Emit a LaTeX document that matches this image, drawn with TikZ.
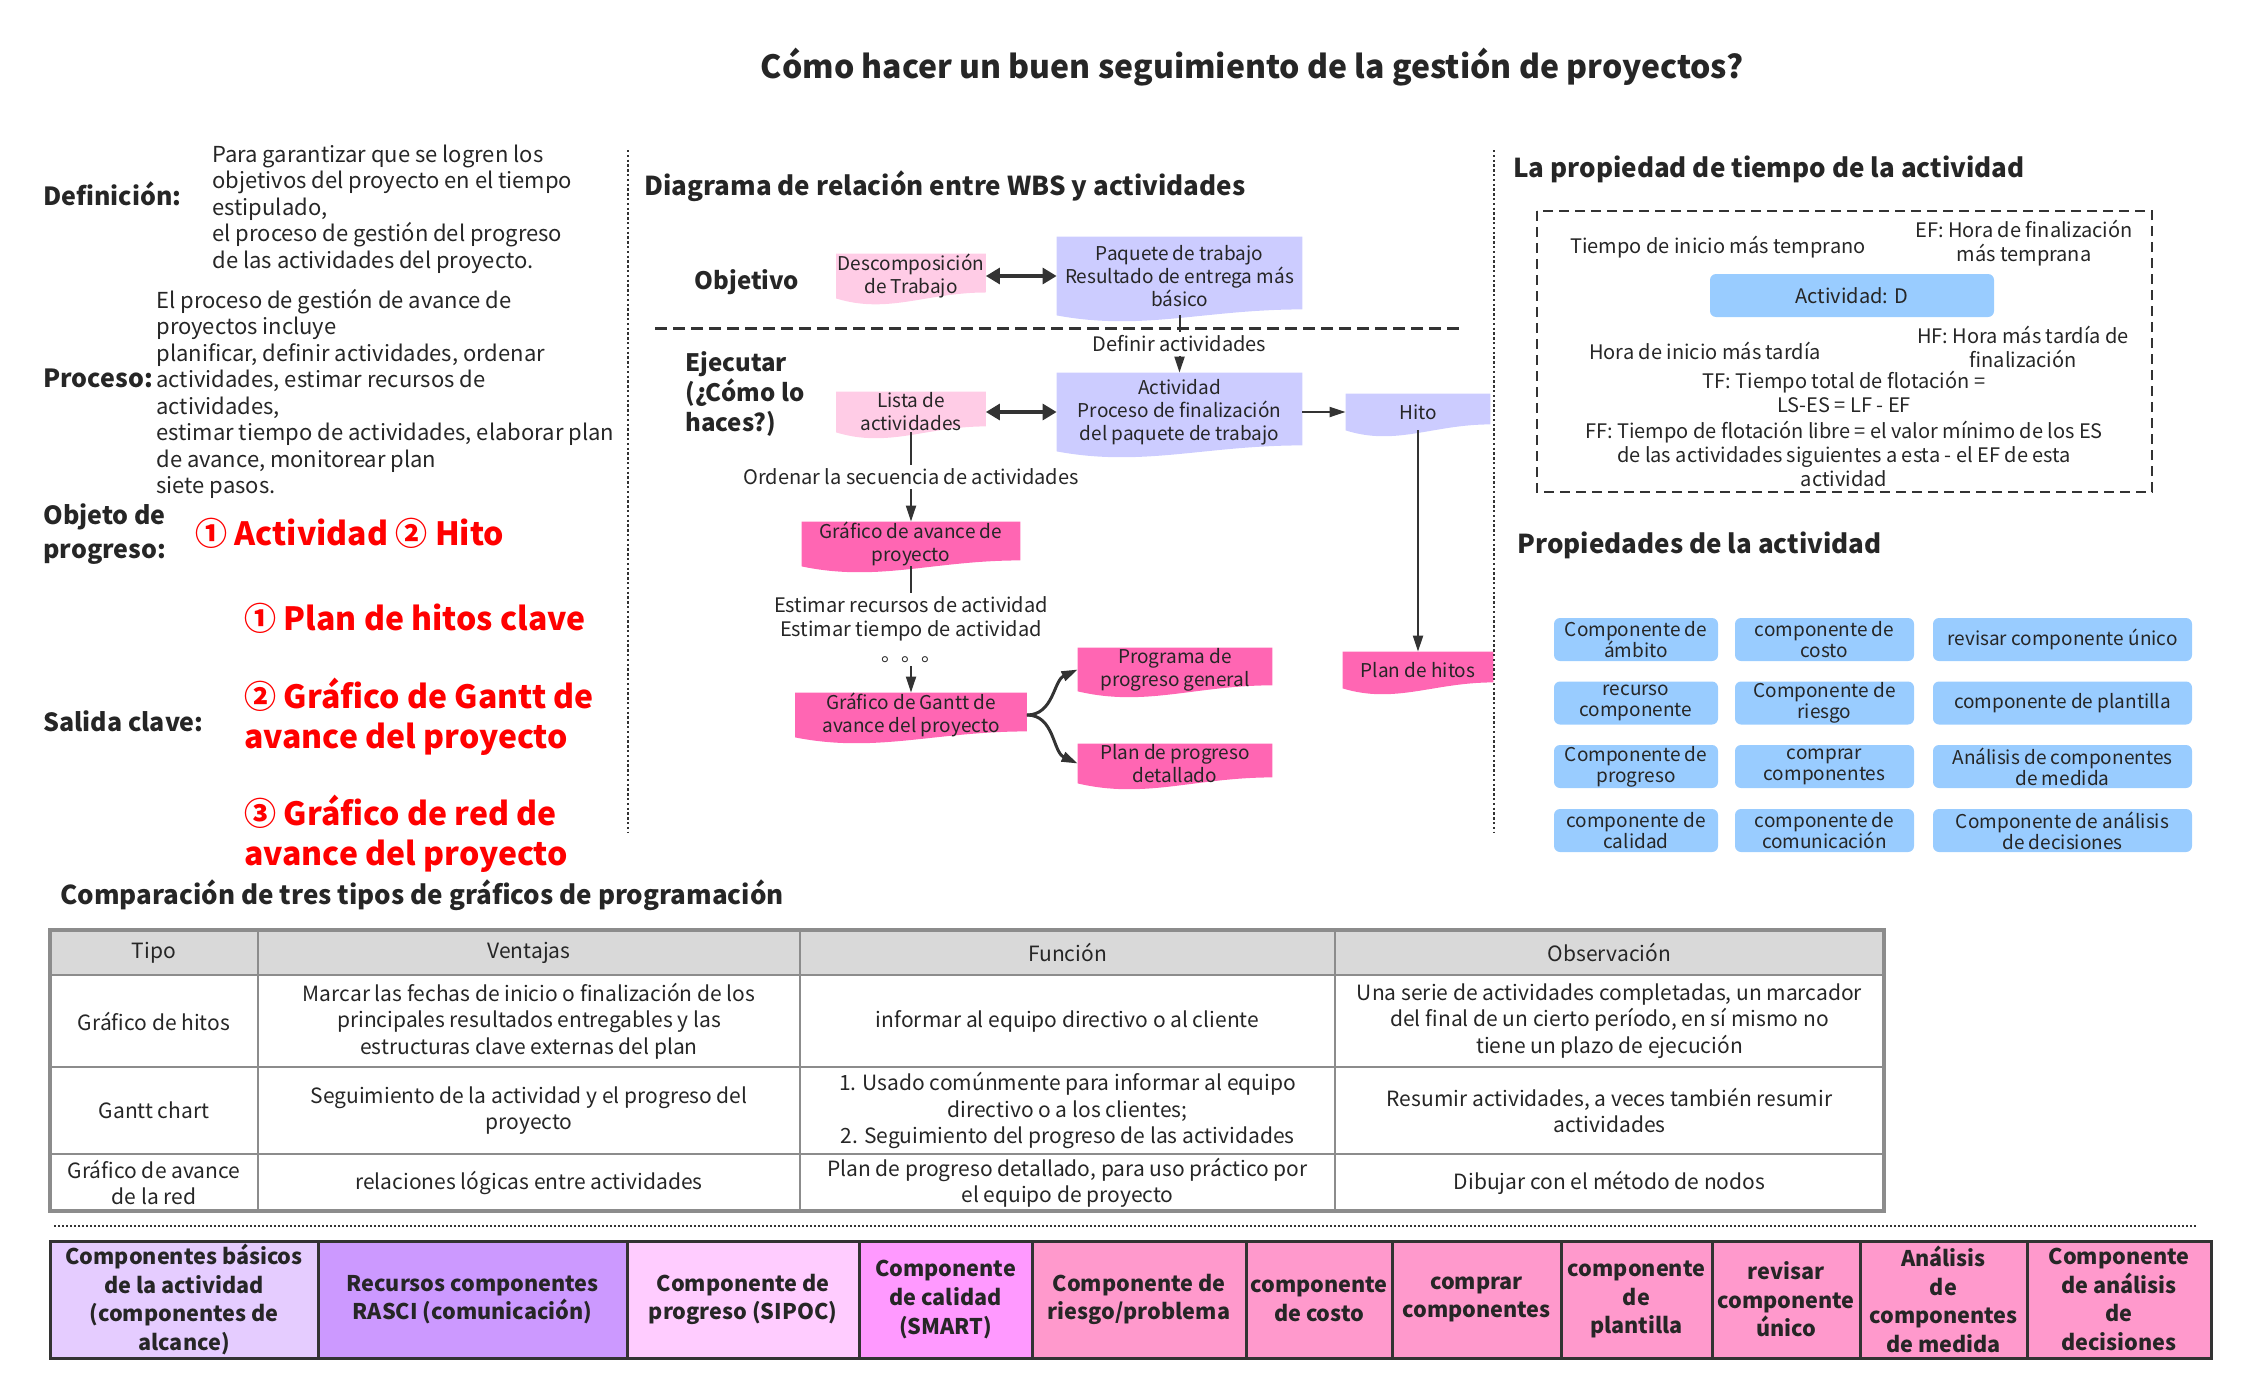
\documentclass[tikz,border=0pt]{standalone}
\usepackage{fontspec}
\setmainfont{Noto Sans CJK SC}
\usepackage{tikz}
\usetikzlibrary{arrows.meta,positioning,calc,backgrounds}
\definecolor{docpink}{HTML}{FFCCE6}
\definecolor{docviolet}{HTML}{CCCCFF}
\definecolor{dochot}{HTML}{FF66B3}
\definecolor{propblue}{HTML}{99CCFF}
\definecolor{linegray}{HTML}{333333}
\definecolor{tablegray}{HTML}{8C8C8C}
\definecolor{headgray}{HTML}{D9D9D9}
\definecolor{bandA}{HTML}{E5CCFF}
\definecolor{bandB}{HTML}{CC99FF}
\definecolor{bandC}{HTML}{FFCCFF}
\definecolor{bandD}{HTML}{FF99FF}
\definecolor{bandE}{HTML}{FF99CC}
\definecolor{alertred}{HTML}{FF0000}
\newcommand{\setfs}[2]{\fontsize{#1}{#2}\selectfont}

\begin{document}
\begin{tikzpicture}[x=0.5pt,y=-0.5pt,
  every node/.style={inner sep=0pt,text=black!85},
  lbl/.style={font=\bfseries\setfs{12.5}{17},anchor=west,align=left},
  body/.style={font=\setfs{11}{13.25},anchor=west,align=left},
  hot/.style={font=\bfseries\setfs{16}{20},text=alertred,anchor=west,align=left},
  head/.style={font=\bfseries\setfs{13}{16},anchor=west},
  doc/.style={font=\setfs{9.5}{11.5},align=center},
  small/.style={font=\setfs{10}{12.2},align=center},
  prop/.style={fill=propblue,rounded corners=3pt,font=\setfs{9.5}{10.6},align=center,minimum height=21.5pt},
  cell/.style={font=\setfs{10.5}{13.2},align=center},
  band/.style={draw=linegray,line width=1.5pt,font=\bfseries\setfs{10.8}{14.3},align=center,minimum height=58.5pt},
  arr/.style={draw=linegray,line width=1pt,-{Triangle[length=8pt,width=5pt]}},
  twoway/.style={draw=linegray,line width=1.6pt,{Triangle[length=7pt,width=8pt]}-{Triangle[length=7pt,width=8pt]}},
  sep/.style={dash pattern=on 1.2pt off 1.2pt,line width=1.2pt,draw=linegray}]
  \useasboundingbox (0,0) rectangle (2248,1397);

  \node[font=\bfseries\setfs{16}{20}] (title) at (1252,67) {Cómo hacer un buen seguimiento de la gestión de proyectos?};

  % left column
  \node[lbl] (deflbl) at (43,194) {Definición:};
  \node[body] (deftxt) at (212,209) {Para garantizar que se logren los\\objetivos del proyecto en el tiempo\\estipulado,\\el proceso de gestión del progreso\\de las actividades del proyecto.};
  \node[lbl] (proclbl) at (43,378) {Proceso:};
  \node[body] (proctxt) at (156,394) {El proceso de gestión de avance de\\proyectos incluye\\planificar, definir actividades, ordenar\\actividades, estimar recursos de\\actividades,\\estimar tiempo de actividades, elaborar plan\\de avance, monitorear plan\\siete pasos.};
  \node[lbl] (objlbl) at (43,534) {Objeto de\\progreso:};
  \node[hot] (objtxt) at (195,533) {① Actividad ② Hito};
  \node[lbl] (sallbl) at (43,721) {Salida clave:};
  \node[hot] (salA) at (244,618) {① Plan de hitos clave};
  \node[hot] (salB) at (244,717) {② Gráfico de Gantt de\\avance del proyecto};
  \node[hot] (salC) at (244,834) {③ Gráfico de red de\\avance del proyecto};

  \draw[sep] (628,150) -- (628,832);
  \draw[sep] (1494,150) -- (1494,832);

  % WBS
  \node[head] (wbshead) at (644,186) {Diagrama de relación entre WBS y actividades};
  \node[font=\bfseries\setfs{12}{15}] (objetivo) at (747,282) {Objetivo};
  \node[lbl,font=\bfseries\setfs{12}{15}] (ejecutar) at (685,394) {Ejecutar\\(¿Cómo lo\\haces?)};
  \draw[linegray,line width=1.5pt,dash pattern=on 6pt off 3pt] (655,328) -- (1462,328);

  \node[doc,minimum width=74.5pt,minimum height=19pt] (desc) at (911,276) {Descomposición\\de Trabajo};
  \node[doc,minimum width=122.5pt,minimum height=39pt] (paq) at (1179.5,276) {Paquete de trabajo\\Resultado de entrega más\\básico};
  \node[doc,minimum width=74.5pt,minimum height=20pt] (lista) at (911,412) {Lista de\\actividades};
  \node[doc,minimum width=122.5pt,minimum height=39pt] (act) at (1179.5,412) {Actividad\\Proceso de finalización\\del paquete de trabajo};
  \node[doc,minimum width=72pt,minimum height=18pt] (hito) at (1418,412) {Hito};
  \node[doc,minimum width=109pt,minimum height=19pt] (avance) at (911,544) {Gráfico de avance de\\proyecto};
  \node[doc,minimum width=115.5pt,minimum height=20pt] (gantt) at (911,715) {Gráfico de Gantt de\\avance del proyecto};
  \node[doc,minimum width=97pt,minimum height=19.5pt] (prog) at (1175,669.5) {Programa de\\progreso general};
  \node[doc,minimum width=97pt,minimum height=19.5pt] (detal) at (1175,763.5) {Plan de progreso\\detallado};
  \node[doc,minimum width=75pt,minimum height=18pt] (phitos) at (1418,670) {Plan de hitos};

  \begin{scope}[on background layer]
    \foreach \n/\c in {desc/docpink,lista/docpink,paq/docviolet,act/docviolet,hito/docviolet,avance/dochot,gantt/dochot,prog/dochot,detal/dochot,phitos/dochot}
      \fill[\c] (\n.north west) -- (\n.north east) -- ($(\n.south east)+(0pt,3pt)$)
        .. controls ($(\n.south west)!0.6!(\n.south east)+(0pt,3pt)$) and ($(\n.south west)!0.35!(\n.south east)+(0pt,-8pt)$) .. (\n.south west) -- cycle;
  \end{scope}

  \draw[twoway] (desc) -- (paq);
  \draw[twoway] (lista) -- (act);
  \draw[arr] (act) -- (hito);
  \draw[arr] (hito) -- (phitos);
  \draw[arr] (paq) -- node[small,fill=white,inner sep=2pt] (defact) {Definir actividades} (act);
  \draw[arr] (lista) -- node[small,fill=white,inner sep=2pt] (ordenar) {Ordenar la secuencia de actividades} (avance);
  \draw[arr] (avance) -- node[small,fill=white,inner sep=2pt] (estimar) {Estimar recursos de actividad\\Estimar tiempo de actividad\\。。。} (gantt);
  \draw[arr,line width=1.5pt] (gantt.east) to[out=0,in=205] (prog.west);
  \draw[arr,line width=1.5pt] (gantt.east) to[out=0,in=155] (detal.west);

  % time properties
  \node[head] (timehead) at (1513,169) {La propiedad de tiempo de la actividad};
  \draw[linegray,line width=1.2pt,dash pattern=on 5pt off 3pt] (1537,211) rectangle (2152,492);
  \node[small] (es) at (1718,247) {Tiempo de inicio más temprano};
  \node[small] (ef) at (2024,243) {EF: Hora de finalización\\más temprana};
  \node[prop,font=\setfs{10}{12},minimum width=142pt] (actd) at (1852,295.5) {Actividad: D};
  \node[small] (ls) at (1705,351) {Hora de inicio más tardía};
  \node[small] (hf) at (2023,347) {HF: Hora más tardía de\\finalización};
  \node[small] (tf) at (1844,392) {TF: Tiempo total de flotación =\\LS-ES = LF - EF};
  \node[small] (ff) at (1844,454) {FF: Tiempo de flotación libre = el valor mínimo de los ES\\de las actividades siguientes a esta - el EF de esta\\actividad};

  \node[head] (prophead) at (1517,545) {Propiedades de la actividad};
  \foreach \y/\ta/\tb/\tc [count=\i] in {
    639.5/{Componente de\\ámbito}/{componente de\\costo}/{revisar componente único},
    703/{recurso\\componente}/{Componente de\\riesgo}/{componente de plantilla},
    766.5/{Componente de\\progreso}/{comprar\\componentes}/{Análisis de componentes\\de medida},
    830.5/{componente de\\calidad}/{componente de\\comunicación}/{Componente de análisis\\de decisiones}}{
    \node[prop,minimum width=82pt] (pa\i) at (1636,\y) {\ta};
    \node[prop,minimum width=89.5pt] (pb\i) at (1824.5,\y) {\tb};
    \node[prop,minimum width=129.5pt] (pc\i) at (2062.5,\y) {\tc};
  }

  % comparison table
  \node[head] (tabhead) at (60,895) {Comparación de tres tipos de gráficos de programación};
  \fill[headgray] (50,930) rectangle (1884,975);
  \foreach \yy in {975,1067,1154}
    \draw[tablegray,line width=1pt] (50,\yy) -- (1884,\yy);
  \foreach \xx in {258,800,1335}
    \draw[tablegray,line width=1pt] (\xx,930) -- (\xx,1211);
  \draw[tablegray,line width=1.6pt] (50,930) rectangle (1884,1211);
  \foreach \y/\a/\b/\c/\d [count=\r] in {
    952.5/{Tipo}/{Ventajas}/{Función}/{Observación},
    1021/{Gráfico de hitos}/{Marcar las fechas de inicio o finalización de los\\principales resultados entregables y las\\estructuras clave externas del plan}/{informar al equipo directivo o al cliente}/{Una serie de actividades completadas, un marcador\\del final de un cierto período, en sí mismo no\\tiene un plazo de ejecución},
    1110.5/{Gantt chart}/{Seguimiento de la actividad y el progreso del\\proyecto}/{1. Usado comúnmente para informar al equipo\\directivo o a los clientes;\\2. Seguimiento del progreso de las actividades}/{Resumir actividades, a veces también resumir\\actividades},
    1182.5/{Gráfico de avance\\de la red}/{relaciones lógicas entre actividades}/{Plan de progreso detallado, para uso práctico por\\el equipo de proyecto}/{Dibujar con el método de nodos}}{
    \node[cell] (r\r a) at (154,\y) {\a};
    \node[cell] (r\r b) at (529,\y) {\b};
    \node[cell] (r\r c) at (1067.5,\y) {\c};
    \node[cell] (r\r d) at (1609.5,\y) {\d};
  }

  \draw[sep,line width=1pt,dash pattern=on 1pt off 1pt] (54,1226) -- (2196,1226);

  % component band
  \foreach \xa/\xb/\col/\txt [count=\i] in {
    50/318/bandA/{Componentes básicos\\de la actividad\\(componentes de\\alcance)},
    318/627/bandB/{Recursos componentes\\RASCI (comunicación)},
    627/859/bandC/{Componente de\\progreso (SIPOC)},
    859/1032/bandD/{Componente\\de calidad\\(SMART)},
    1032/1246/bandE/{Componente de\\riesgo/problema},
    1246/1392/bandE/{componente\\de costo},
    1392/1561/bandE/{comprar\\componentes},
    1561/1712/bandE/{componente\\de\\plantilla},
    1712/1860/bandE/{revisar\\componente\\único},
    1860/2027/bandE/{Análisis\\de\\componentes\\de medida},
    2027/2211/bandE/{Componente\\de análisis\\de\\decisiones}}
    \node[band,fill=\col,minimum width={(\xb-\xa)*0.5pt}] (b\i) at ({(\xa+\xb)/2},1299.5) {\txt};
\end{tikzpicture}
\end{document}
